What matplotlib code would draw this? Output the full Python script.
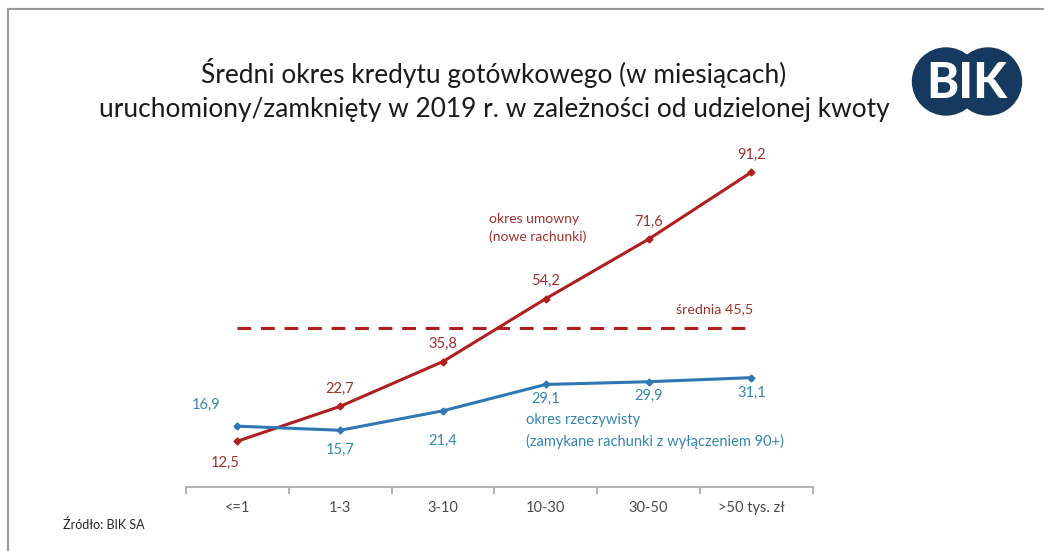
import matplotlib
matplotlib.use("Agg")
import matplotlib.pyplot as plt
from matplotlib.patches import Circle
from matplotlib.lines import Line2D

categories = ["<=1", "1-3", "3-10", "10-30", "30-50", ">50 tys. zł"]
umowny = [12.5, 22.7, 35.8, 54.2, 71.6, 91.2]
rzeczywisty = [16.9, 15.7, 21.4, 29.1, 29.9, 31.1]
srednia = 45.5

RED = "#B01F1F"
RED_TXT = "#A0302E"
BLUE = "#2F78B5"
BLUE_TXT = "#3486AE"

plt.rcParams['font.family'] = ['Lato', 'DejaVu Sans']

W, H = 1044, 551
fig = plt.figure(figsize=(W / 100, H / 100), dpi=100)

# frame lines (left and top)
fig.add_artist(Line2D([8 / W, 8 / W], [0, 1 - 9 / H], color="#9a9a9a", lw=1.5))
fig.add_artist(Line2D([8 / W, 1], [1 - 9 / H, 1 - 9 / H], color="#9a9a9a", lw=1.5))

# axes
x0, x1 = 186, 813
ybot, ytop = 487, 149
ax = fig.add_axes([x0 / W, 1 - ybot / H, (x1 - x0) / W, (ybot - ytop) / H])
ax.set_xlim(-0.5, 5.6)
ax.set_ylim(-0.9, 98)
for s in ["top", "right", "left"]:
    ax.spines[s].set_visible(False)
ax.spines["bottom"].set_color("#a6a6a6")
ax.spines["bottom"].set_linewidth(1.2)
ax.set_yticks([])
xs = list(range(len(categories)))
ax.set_xticks(xs)
ax.set_xticklabels(categories, fontsize=10.5, color="#4a4a4a")
ax.tick_params(axis="x", which="major", length=0, pad=10)
ax.set_xticks([i - 0.5 for i in range(len(categories))] + [5.6], minor=True)
ax.tick_params(axis="x", which="minor", length=5, color="#a6a6a6", width=1.2, direction="out")

ax.plot(xs, umowny, color=RED, lw=2.2, marker="D", ms=3.5, zorder=3)
ax.plot(xs, rzeczywisty, color=BLUE, lw=2.2, marker="D", ms=3.5, zorder=3)
ax.plot([xs[0], xs[-1]], [srednia, srednia], color=RED, lw=2.2, ls=(0, (4.5, 3.2)), zorder=2)

# red labels
red_off = [(-0.12, -6.4), (0, 5.2), (0, 5.2), (0, 5.2), (0, 5.2), (0, 5.0)]
for x, v, (dx, dy) in zip(xs, umowny, red_off):
    ax.text(x + dx, v + dy, f"{v:.1f}".replace(".", ","), ha="center", va="center",
            fontsize=10.5, color=RED_TXT)
blue_off = [(-0.3, 6.2), (0, -5.8), (0, -8.8), (0, -4.2), (0, -4.2), (0, -4.6)]
for x, v, (dx, dy) in zip(xs, rzeczywisty, blue_off):
    ax.text(x + dx, v + dy, f"{v:.1f}".replace(".", ","), ha="center", va="center",
            fontsize=10.5, color=BLUE_TXT)

ax.text(2.45, 75, "okres umowny\n(nowe rachunki)", ha="left", va="center",
        fontsize=10, color=RED_TXT, linespacing=1.5)
ax.text(5.02, srednia + 5.6, "średnia 45,5", ha="right", va="center",
        fontsize=10.3, color=RED_TXT)
ax.text(2.81, 15.5, "okres rzeczywisty\n(zamykane rachunki z wyłączeniem 90+)", ha="left",
        va="center", fontsize=10.5, color=BLUE_TXT, linespacing=1.55)

# title
fig.text(494 / W, 1 - 73 / H, "Średni okres kredytu gotówkowego (w miesiącach)",
         ha="center", va="center", fontsize=18.9, color="#1a1a1a")
fig.text(494 / W, 1 - 110 / H, "uruchomiony/zamknięty w 2019 r. w zależności od udzielonej kwoty",
         ha="center", va="center", fontsize=18.9, color="#1a1a1a")

# source
fig.text(63 / W, 1 - 525 / H, "Źródło: BIK SA", ha="left", va="center",
         fontsize=9, color="#222222")

# logo
lax = fig.add_axes([0, 0, 1, 1], zorder=5)
lax.set_xlim(0, W)
lax.set_ylim(H, 0)
lax.axis("off")
NAVY = "#163A5F"
lax.add_patch(Circle((946, 81.5), 33.5, color=NAVY))
lax.add_patch(Circle((988, 81.5), 33.5, color=NAVY))
lax.text(967, 83, "BIK", ha="center", va="center", fontsize=35, fontweight=900,
         color="white", family="Lato")

fig.savefig("out.png", dpi=100, facecolor="white")
